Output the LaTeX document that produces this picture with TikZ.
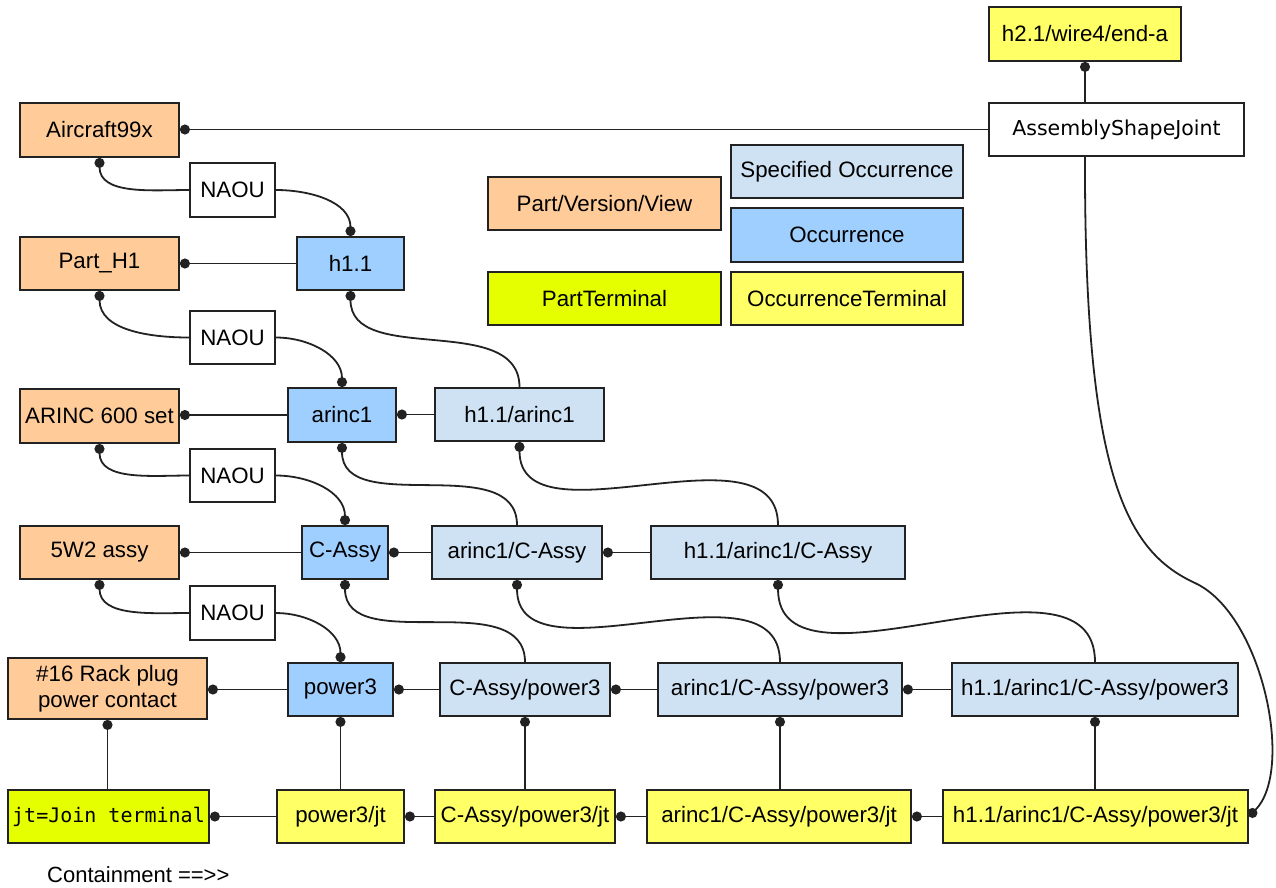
\documentclass[tikz,border=0pt]{standalone}
\usepackage{fontspec}
\setmainfont{Liberation Sans}
\newfontfamily\asjfont{DejaVu Sans}
\newfontfamily\jtfont{DejaVu Sans Mono}
\usetikzlibrary{arrows.meta}

\definecolor{pvcol}{HTML}{FFCC99}
\definecolor{speccol}{HTML}{CFE2F3}
\definecolor{occcol}{HTML}{9FCFFF}
\definecolor{ptcol}{HTML}{E5FF00}
\definecolor{otcol}{HTML}{FFFF66}
\definecolor{edgecol}{HTML}{222222}

\begin{document}
\begin{tikzpicture}[x=1pt,y=-1pt,
  box/.style={draw=edgecol, line width=1.8pt, inner sep=1pt, align=center,
              font=\fontsize{22.3}{26}\selectfont},
  wh/.style 2 args={minimum width=#1, minimum height=#2},
  pv/.style={box, fill=pvcol},
  spec/.style={box, fill=speccol},
  occ/.style={box, fill=occcol},
  pterm/.style={box, fill=ptcol},
  oterm/.style={box, fill=otcol},
  plain/.style={box, fill=white},
  link/.style={draw=edgecol, line width=1.8pt},
  dotend/.style={link, -{Circle[length=10pt]}},
  dotstart/.style={link, {Circle[length=10pt]}-},
]
\useasboundingbox (0,0) rectangle (1276,887);
\fill[white] (0,0) rectangle (1276,887);

% ---- parts / versions / views (left column)
\node[pv, wh={159}{54}] (air)      at (99.5,130)   {Aircraft99x};
\node[pv, wh={159}{53}] (parth1)   at (99.5,263.5) {Part\_H1};
\node[pv, wh={159}{54}] (arinc600) at (99.5,416)   {ARINC 600 set};
\node[pv, wh={159}{53}] (w2)       at (99.5,552.5) {5W2 assy};
\node[pv, wh={199}{61}] (rack)     at (107.5,688.5) {\#16 Rack plug\\power contact};
\node[pterm, wh={201}{53}] (jt)    at (108.5,816.5)
     {\jtfont\fontsize{20}{24}\selectfont jt=Join terminal};

% ---- NAOU links
\node[plain, wh={85}{54}] (naou1) at (232.5,190)   {NAOU};
\node[plain, wh={85}{53}] (naou2) at (232.5,337.5) {NAOU};
\node[plain, wh={85}{53}] (naou3) at (232.5,475.5) {NAOU};
\node[plain, wh={85}{54}] (naou4) at (232.5,613)   {NAOU};

% ---- occurrences
\node[occ, wh={107}{53}] (h11)    at (350.5,263.5) {h1.1};
\node[occ, wh={108}{54}] (arinc1) at (342,415)     {arinc1};
\node[occ, wh={86}{53}]  (cassy)  at (345,552.5)   {C-Assy};
\node[occ, wh={105}{53}] (power3) at (340.5,689.5) {power3};

% ---- specified occurrences
\node[spec, wh={169}{53}] (h11a1)   at (519.5,414.5) {h1.1/arinc1};
\node[spec, wh={170}{53}] (a1c)     at (517,552.5)   {arinc1/C-Assy};
\node[spec, wh={254}{53}] (h11a1c)  at (778,552.5)   {h1.1/arinc1/C-Assy};
\node[spec, wh={170}{53}] (cp3)     at (525,689.5)   {C-Assy/power3};
\node[spec, wh={244}{53}] (a1cp3)   at (780,689.5)   {arinc1/C-Assy/power3};
\node[spec, wh={286}{53}] (h1p3)    at (1095,689.5)  {h1.1/arinc1/C-Assy/power3};

% ---- occurrence terminals
\node[oterm, wh={127}{53}] (p3jt)   at (340.5,816.5)  {power3/jt};
\node[oterm, wh={180}{53}, inner sep=0pt] (cp3jt)  at (525,816.5) {C-Assy/power3/jt};
\node[oterm, wh={264}{53}] (a1cp3jt) at (779,816.5)   {arinc1/C-Assy/power3/jt};
\node[oterm, wh={305}{53}] (h1p3jt) at (1095.5,816.5) {h1.1/arinc1/C-Assy/power3/jt};

% ---- joint
\node[oterm, wh={192}{54}] (wire) at (1085,34) {h2.1/wire4/end-a};
\node[plain, wh={255}{53}] (asj)  at (1116.5,129.5)
     {\asjfont\fontsize{20.5}{24}\selectfont AssemblyShapeJoint};

% ---- legend
\node[pv,    wh={233}{53}] (legpv)   at (604.5,203.5) {Part/Version/View};
\node[spec,  wh={232}{53}] (legspec) at (847,171.5)   {Specified Occurrence};
\node[occ,   wh={232}{54}] (legocc)  at (847,235)     {Occurrence};
\node[pterm, wh={233}{53}] (legpt)   at (604.5,298.5) {PartTerminal};
\node[oterm, wh={232}{53}] (legot)   at (847,298.5)   {OccurrenceTerminal};

\node[anchor=base west, inner sep=0pt, font=\fontsize{22}{24}\selectfont]
     (cont) at (47,882) {Containment ==\mbox{>}\mbox{>}};

% ---- horizontal links
\draw[dotend] (asj.west) -- (asj.west -| air.east);
\draw[dotend] (h11.west) -- (h11.west -| parth1.east);
\draw[dotend] (arinc1.west) -- (arinc1.west -| arinc600.east);
\draw[dotend] (h11a1.west) -- (h11a1.west -| arinc1.east);
\draw[dotend] (cassy.west) -- (cassy.west -| w2.east);
\draw[dotend] (a1c.west) -- (a1c.west -| cassy.east);
\draw[dotend] (h11a1c.west) -- (h11a1c.west -| a1c.east);
\draw[dotend] (power3.west) -- (power3.west -| rack.east);
\draw[dotend] (cp3.west) -- (cp3.west -| power3.east);
\draw[dotend] (a1cp3.west) -- (a1cp3.west -| cp3.east);
\draw[dotend] (h1p3.west) -- (h1p3.west -| a1cp3.east);
\draw[dotend] (p3jt.west) -- (p3jt.west -| jt.east);
\draw[dotend] (cp3jt.west) -- (cp3jt.west -| p3jt.east);
\draw[dotend] (a1cp3jt.west) -- (a1cp3jt.west -| cp3jt.east);
\draw[dotend] (h1p3jt.west) -- (h1p3jt.west -| a1cp3jt.east);

% ---- vertical links
\draw[dotstart] (rack.south) -- (rack.south |- jt.north);
\draw[dotstart] (power3.south) -- (power3.south |- p3jt.north);
\draw[dotstart] (cp3.south) -- (cp3.south |- cp3jt.north);
\draw[dotstart] (a1cp3.south) -- (a1cp3.south |- a1cp3jt.north);
\draw[dotstart] (h1p3.south) -- (h1p3.south |- h1p3jt.north);
\draw[dotstart] (wire.south) -- (wire.south |- asj.north);

% ---- NAOU curves
\draw[dotstart] (air.south) to[out=-90,in=180] (naou1.west);
\draw[dotend] (naou1.east) to[out=0,in=90] (h11.north);
\draw[dotstart] (parth1.south) to[out=-90,in=180] (naou2.west);
\draw[dotend] (naou2.east) to[out=0,in=90] (arinc1.north);
\draw[dotstart] (arinc600.south) to[out=-90,in=180] (naou3.west);
\draw[dotend] (naou3.east) to[out=0,in=90] (cassy.north);
\draw[dotstart] (w2.south) to[out=-90,in=180] (naou4.west);
\draw[dotend] (naou4.east) to[out=0,in=90] (power3.north);

% ---- containment curves
\draw[dotstart] (h11.south) to[out=-90,in=90] (h11a1.north);
\draw[dotstart] (arinc1.south) to[out=-90,in=90] (a1c.north);
\draw[dotstart] (h11a1.south) to[out=-90,in=90] (h11a1c.north);
\draw[dotstart] (cassy.south) to[out=-90,in=90] (cp3.north);
\draw[dotstart] (a1c.south) to[out=-90,in=90] (a1cp3.north);
\draw[dotstart] (h11a1c.south) to[out=-90,in=90] (h1p3.north);

% ---- joint to terminal
\draw[dotend] (wire.south |- asj.south)
  .. controls (1084,480) and (1128,552) .. (1195,583)
  .. controls (1262,614) and (1295,770) .. (h1p3jt.east);
\end{tikzpicture}
\end{document}
